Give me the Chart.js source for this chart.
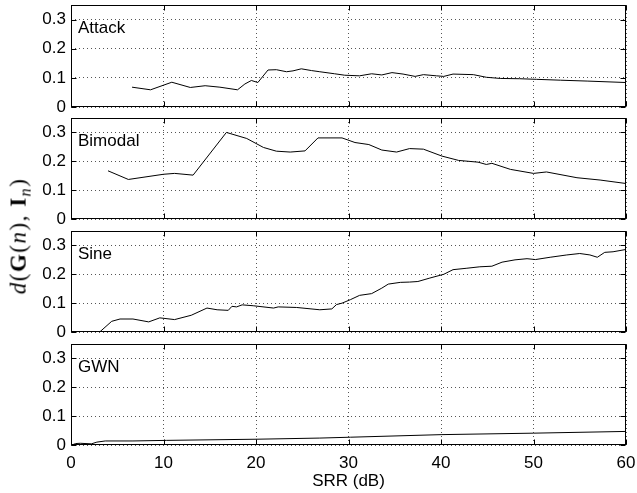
<!DOCTYPE html>
<html>
<head>
<meta charset="utf-8">
<script src="https://cdn.jsdelivr.net/npm/chart.js@4.4.0/dist/chart.umd.min.js"></script>
<style>
  body { margin: 0; background: #fff; }
  #wrap { position: relative; width: 637px; height: 493px; }
  #wrap canvas { position: absolute; left: 0; top: 0; }
  #ylab {
    position: absolute; left: 20px; top: 236px;
    transform: translate(-50%, -50%) rotate(-90deg);
    font-family: "Liberation Serif", "DejaVu Serif", serif;
    font-size: 23px; white-space: nowrap; letter-spacing: 1.5px;
  }
  #ylab sub { font-size: 0.7em; vertical-align: -0.3em; }
</style>
</head>
<body>
<div id="wrap">
  <canvas id="c1" width="637" height="493"></canvas>
  <canvas id="c2" width="637" height="493"></canvas>
  <canvas id="c3" width="637" height="493"></canvas>
  <canvas id="c4" width="637" height="493"></canvas>
  <div id="ylab"><i>d</i>(<b>G</b>(<i>n</i>), <b>I</b><sub><i>n</i></sub>)</div>
</div>
<script>
const xTicks = [0, 10, 20, 30, 40, 50, 60];
const yTicks = [0, 0.1, 0.2, 0.3];
const panelNames = ["Attack", "Bimodal", "Sine", "GWN"];
const xTitle = "SRR (dB)";

const attackX = [6.6, 8.6, 10.9, 12.9, 14.5, 16.1, 18.0, 18.8, 19.5, 20.2, 21.3, 22.2, 23.3, 24.0, 24.9, 26.0, 26.9, 28.5, 29.6, 31.2, 32.5, 33.6, 34.7, 35.9, 37.2, 38.1, 39.5, 40.3, 41.3, 43.5, 44.9, 46.4, 48.5, 50.3, 52.9, 55.8, 60];
const attackY = [0.068, 0.059, 0.085, 0.067, 0.073, 0.068, 0.059, 0.079, 0.091, 0.084, 0.127, 0.128, 0.121, 0.124, 0.131, 0.125, 0.121, 0.114, 0.109, 0.107, 0.114, 0.110, 0.118, 0.113, 0.105, 0.111, 0.107, 0.105, 0.113, 0.111, 0.102, 0.098, 0.097, 0.095, 0.092, 0.089, 0.084];

const bimodalX = [4.0, 6.2, 10.0, 11.2, 13.2, 16.8, 19.0, 20.8, 22.2, 23.7, 25.3, 26.7, 29.3, 30.7, 32.2, 33.6, 35.2, 36.6, 38.1, 40.1, 41.9, 44.0, 44.9, 45.5, 47.5, 50.0, 51.4, 54.7, 57.2, 60];
const bimodalY = [0.167, 0.137, 0.155, 0.158, 0.152, 0.300, 0.279, 0.248, 0.235, 0.232, 0.236, 0.281, 0.281, 0.265, 0.258, 0.239, 0.232, 0.244, 0.242, 0.218, 0.203, 0.197, 0.189, 0.193, 0.172, 0.158, 0.163, 0.143, 0.135, 0.123];

const sineX = [3.1, 4.4, 5.3, 6.7, 8.4, 9.6, 11.2, 13.0, 14.7, 15.8, 17.0, 17.4, 17.9, 18.5, 19.7, 21.9, 22.4, 24.4, 26.9, 28.2, 28.7, 29.3, 30.2, 31.2, 32.5, 33.6, 34.3, 35.6, 36.6, 37.5, 38.8, 40.3, 41.3, 42.8, 44.2, 45.5, 46.6, 48.0, 49.3, 50.2, 51.8, 53.6, 55.0, 56.1, 56.9, 57.7, 58.6, 60];
const sineY = [0, 0.037, 0.045, 0.045, 0.035, 0.049, 0.043, 0.058, 0.083, 0.077, 0.075, 0.089, 0.087, 0.094, 0.091, 0.083, 0.087, 0.085, 0.077, 0.080, 0.095, 0.100, 0.112, 0.127, 0.133, 0.152, 0.166, 0.172, 0.173, 0.175, 0.187, 0.200, 0.216, 0.221, 0.226, 0.228, 0.242, 0.250, 0.254, 0.251, 0.259, 0.267, 0.272, 0.267, 0.259, 0.276, 0.278, 0.286];

const gwnX = [0.1, 0.5, 1.0, 2.2, 2.8, 3.7, 6.7, 10.3, 20, 26.9, 30.2, 40.1, 50, 60];
const gwnY = [0, 0.005, 0.006, 0.004, 0.010, 0.014, 0.014, 0.016, 0.020, 0.024, 0.027, 0.036, 0.041, 0.047];

// plot rectangles of the four stacked panels (page pixels)
const panelBox = [[5, 107], [118, 219], [231, 332], [344, 445]];
const seriesX = [attackX, bimodalX, sineX, gwnX];
const seriesY = [attackY, bimodalY, sineY, gwnY];

Chart.defaults.font.family = '"Liberation Sans", Arial, Helvetica, sans-serif';
Chart.defaults.font.size = 17;
Chart.defaults.color = "#000";

// matlab style frame with inward ticks + panel name
const framePlugin = {
  id: "frame",
  afterDraw(chart, args, opts) {
    const { ctx, chartArea: a, scales } = chart;
    const L = Math.round(a.left) + 0.5, R = Math.round(a.right) - 0.5;
    const T = Math.round(a.top) + 0.5, B = Math.round(a.bottom) - 0.5;
    ctx.save();
    ctx.strokeStyle = "#000";
    ctx.lineWidth = 1;
    ctx.strokeRect(L, T, R - L, B - T);
    ctx.beginPath();
    xTicks.forEach(v => {
      const px = Math.round(scales.x.getPixelForValue(v)) + 0.5;
      ctx.moveTo(px, B); ctx.lineTo(px, B - 5);
      ctx.moveTo(px, T); ctx.lineTo(px, T + 5);
    });
    yTicks.forEach(v => {
      const py = Math.round(scales.y.getPixelForValue(v)) + 0.5;
      ctx.moveTo(L, py); ctx.lineTo(L + 5, py);
      ctx.moveTo(R, py); ctx.lineTo(R - 5, py);
    });
    ctx.stroke();
    ctx.fillStyle = "#000";
    ctx.font = '17px "Liberation Sans", Arial, sans-serif';
    ctx.textBaseline = "alphabetic";
    ctx.fillText(opts.label, a.left + 7, a.top + 28);
    ctx.restore();
  }
};

panelBox.forEach((box, i) => {
  const last = i === panelBox.length - 1;
  const pts = seriesX[i].map((x, k) => ({ x: x, y: seriesY[i][k] }));
  new Chart(document.getElementById("c" + (i + 1)), {
    type: "line",
    data: {
      datasets: [{
        data: pts,
        borderColor: "#000",
        borderWidth: 1,
        pointRadius: 0,
        tension: 0,
        fill: false
      }]
    },
    options: {
      responsive: false,
      animation: false,
      events: [],
      layout: { padding: { top: box[0], right: 11, left: 0, bottom: 0 } },
      plugins: {
        legend: { display: false },
        tooltip: { enabled: false },
        frame: { label: panelNames[i] }
      },
      scales: {
        x: {
          type: "linear",
          min: 0,
          max: 60,
          afterBuildTicks: s => { s.ticks = xTicks.map(v => ({ value: v })); },
          afterFit: s => { s.height = 493 - box[1]; s.paddingLeft = 0; s.paddingRight = 0; },
          ticks: { display: last, padding: 8, maxRotation: 0, font: { size: 17 } },
          grid: { color: "#555", lineWidth: 1, drawTicks: false },
          border: { display: false, dash: [1, 3] },
          title: { display: last, text: xTitle, font: { size: 17 }, padding: { top: 0, bottom: 1 } }
        },
        y: {
          type: "linear",
          min: 0,
          max: 0.35,
          afterBuildTicks: s => { s.ticks = yTicks.map(v => ({ value: v })); },
          afterFit: s => { s.width = 71; s.paddingTop = 0; s.paddingBottom = 0; },
          ticks: { padding: 5, callback: v => (v === 0 ? "0" : v.toFixed(1)), font: { size: 17 } },
          grid: { color: "#555", lineWidth: 1, drawTicks: false },
          border: { display: false, dash: [1, 3] }
        }
      }
    },
    plugins: [framePlugin]
  });
});
</script>
</body>
</html>
